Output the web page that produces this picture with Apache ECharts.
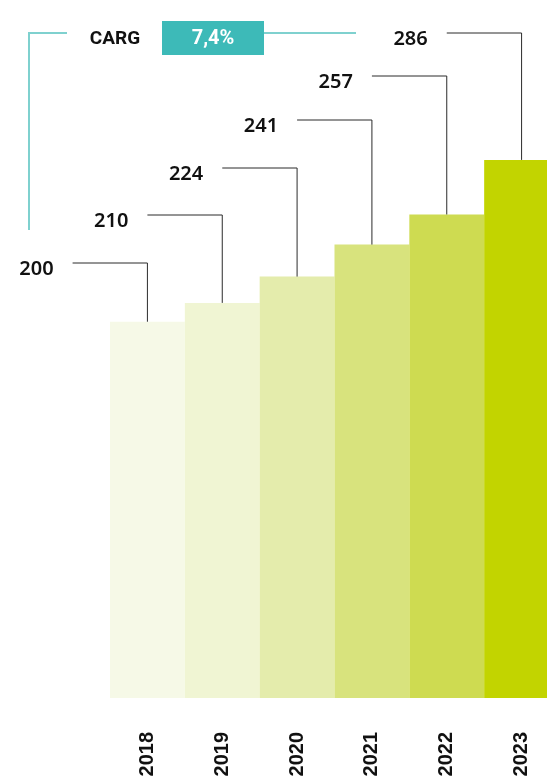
<!DOCTYPE html>
<html>
<head>
<meta charset="utf-8">
<script src="https://cdn.jsdelivr.net/npm/echarts@6/dist/echarts.min.js"></script>
<style>
  html, body { margin: 0; padding: 0; background: #fff; }
  #chart { width: 547px; height: 782px; }
</style>
</head>
<body>
<div id="chart"></div>
<script>
(function () {
  'use strict';

  // ── Data ──
  var years = ['2018', '2019', '2020', '2021', '2022', '2023'];
  var values = [200, 210, 224, 241, 257, 286];
  var cagrLabel = 'CARG';
  var cagrValue = '7,4%';

  // ── Styling ──
  var BAR_COLORS = ['#f6f9e7', '#f0f5d3', '#e4ecac', '#d8e37d', '#cedb51', '#c2d400'];
  var TEAL = '#3dbab8';
  var TEAL_LINE = '#7fd1cf';
  var INK = '#111111';
  var LEADER_Y = [263, 215, 168, 120, 76, 33]; // pixel height of each leader's horizontal run

  var chart = echarts.init(document.getElementById('chart'), null, { renderer: 'canvas' });

  function renderLeader(params, api) {
    var i = api.value(0);
    var top = api.coord([i, api.value(1)]);
    var step = api.size([1, 0])[0];
    var cx = top[0];
    var left = cx - step;
    var ly = LEADER_Y[i];
    return {
      type: 'group',
      children: [
        {
          type: 'polyline',
          shape: { points: [[left, ly], [cx, ly], [cx, top[1]]] },
          style: { stroke: '#2b2b2b', lineWidth: 1, fill: null }
        },
        {
          type: 'text',
          x: left - 19,
          y: ly + 6,
          style: {
            text: String(values[i]),
            align: 'right',
            verticalAlign: 'middle',
            fill: INK,
            font: '600 20px "Noto Sans", sans-serif'
          }
        }
      ]
    };
  }

  chart.setOption({
    animation: false,
    grid: { left: 110, width: 449, top: 0, bottom: 84, outerBoundsMode: 'none', containLabel: false },
    xAxis: {
      type: 'category',
      data: years,
      axisLine: { show: false },
      axisTick: { show: false },
      axisLabel: {
        rotate: 90,
        margin: 34,
        color: INK,
        fontFamily: '"Liberation Sans", Arial, sans-serif',
        fontWeight: 'bold',
        fontSize: 20,
        padding: [10, 0, 0, 0]
      }
    },
    yAxis: {
      type: 'value',
      min: 0,
      max: 371,
      show: false,
      splitLine: { show: false }
    },
    series: [
      {
        type: 'bar',
        barCategoryGap: 0,
        data: values.map(function (v, i) {
          return { value: v, itemStyle: { color: BAR_COLORS[i] } };
        })
      },
      {
        type: 'custom',
        renderItem: renderLeader,
        data: values.map(function (v, i) { return [i, v]; }),
        z: 5
      }
    ],
    graphic: [
      {
        type: 'polyline',
        shape: { points: [[29, 230], [29, 33], [67, 33]] },
        style: { stroke: TEAL_LINE, lineWidth: 2, fill: null }
      },
      {
        type: 'line',
        shape: { x1: 264, y1: 33, x2: 356, y2: 33 },
        style: { stroke: TEAL_LINE, lineWidth: 2 }
      },
      {
        type: 'text',
        x: 115,
        y: 39,
        style: {
          text: cagrLabel,
          align: 'center',
          verticalAlign: 'middle',
          fill: INK,
          font: 'bold 19px "Roboto", sans-serif'
        }
      },
      {
        type: 'rect',
        shape: { x: 162, y: 21, width: 102, height: 34 },
        style: { fill: TEAL }
      },
      {
        type: 'text',
        x: 213,
        y: 39,
        style: {
          text: cagrValue,
          align: 'center',
          verticalAlign: 'middle',
          fill: '#ffffff',
          font: 'bold 20px "Roboto", sans-serif'
        }
      }
    ]
  });
})();
</script>
</body>
</html>
